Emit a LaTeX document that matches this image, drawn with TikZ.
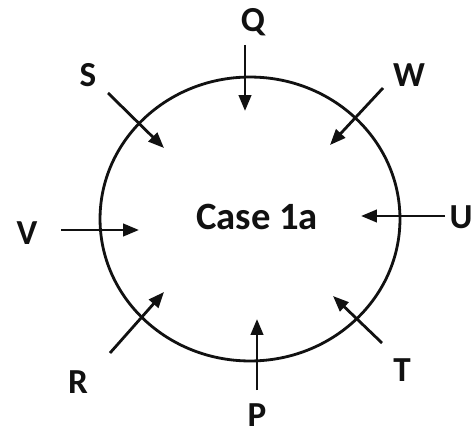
\documentclass[tikz,border=0pt]{standalone}
\usepackage{fontspec}
\setmainfont{Carlito}
\usetikzlibrary{shapes.geometric, arrows.meta}
\definecolor{inkblack}{HTML}{111111}

\begin{document}
\begin{tikzpicture}[x=0.02cm, y=-0.02cm,
    flow/.style={-{Triangle[length=9pt,width=7pt]}, color=inkblack, line width=1.6pt},
    lbl/.style={color=inkblack, font=\fontsize{20}{24}\selectfont\bfseries}]
      \useasboundingbox (0,0) rectangle (472,435);
      % Cell outline and case label
      \node[ellipse, draw=inkblack, line width=1.6pt, minimum width=6cm,
            minimum height=5.68cm] (cell) at (250,219) {};
      \node[color=inkblack, font=\fontsize{22}{26}\selectfont\bfseries] (case) at (257,217) {Case 1a};
      % Surrounding labels
      \node[lbl] (Q) at (253,22) {Q};
      \node[lbl] (W) at (409,75) {W};
      \node[lbl] (S) at (88,75) {S};
      \node[lbl] (V) at (27,233) {V};
      \node[lbl] (U) at (461,217) {U};
      \node[lbl] (R) at (78,382) {R};
      \node[lbl] (P) at (257,415) {P};
      \node[lbl] (T) at (402,370) {T};
      % Arrow ends
      \coordinate (q0) at (245,45);  \coordinate (q1) at (245,111);
      \coordinate (w0) at (383,88);  \coordinate (w1) at (330,145);
      \coordinate (s0) at (108,93);  \coordinate (s1) at (164,148);
      \coordinate (v0) at (61,230);  \coordinate (v1) at (139,230);
      \coordinate (u0) at (445,216); \coordinate (u1) at (361,216);
      \coordinate (r0) at (110,353); \coordinate (r1) at (164,292);
      \coordinate (p0) at (257,390); \coordinate (p1) at (257,319);
      \coordinate (t0) at (382,343); \coordinate (t1) at (333,296);
      \draw[flow] (q0) -- (q1);
      \draw[flow] (w0) -- (w1);
      \draw[flow] (s0) -- (s1);
      \draw[flow] (v0) -- (v1);
      \draw[flow] (u0) -- (u1);
      \draw[flow] (r0) -- (r1);
      \draw[flow] (p0) -- (p1);
      \draw[flow] (t0) -- (t1);
    \end{tikzpicture}
\end{document}
